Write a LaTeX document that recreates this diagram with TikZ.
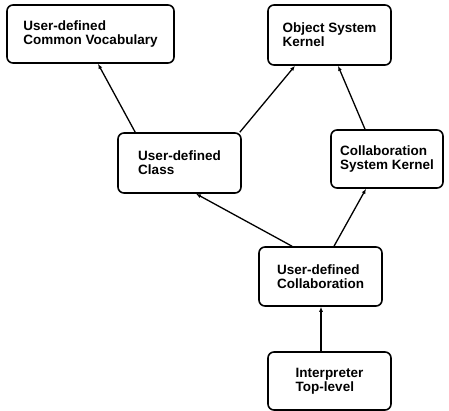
\documentclass[tikz,border=0pt]{standalone}
\usepackage{fontspec}
\newfontfamily\helv{Liberation Sans}
\usepackage{tikz}
\usetikzlibrary{arrows.meta,calc,positioning}
\tikzset{
  box/.style={rectangle,rounded corners=6pt,draw=black,line width=1.6pt,
    fill=white,align=left,inner sep=4pt,
    font=\helv\bfseries\fontsize{13.5}{14}\selectfont},
  arr/.style={-{Latex[length=5pt,width=4pt]},line width=1.3pt}
}

\begin{document}
\begin{tikzpicture}[x=1pt,y=-1pt]
  \useasboundingbox (0,0) rectangle (449,411);
  \node[box,minimum width=167pt,minimum height=58pt] (voc) at (90.5,34)
    {User-defined\\Common Vocabulary};
  \node[box,minimum width=123pt,minimum height=60pt] (obj) at (329.5,35)
    {Object System\\Kernel};
  \node[box,minimum width=123pt,minimum height=60pt] (cls) at (179.5,163)
    {User-defined\\Class};
  \node[box,minimum width=112pt,minimum height=58pt] (csk) at (387,159)
    {Collaboration\\System Kernel};
  \node[box,minimum width=123pt,minimum height=59pt] (ucol) at (320.5,276.5)
    {User-defined\\Collaboration};
  \node[box,minimum width=123pt,minimum height=58pt] (itp) at (329.5,381)
    {Interpreter\\Top-level};
  % inheritance links
  \draw[arr] ([xshift=18pt]cls.north west) -- ([xshift=7.5pt]voc.south);
  \draw[arr] ([xshift=-2pt]cls.north east) -- ([xshift=-34.5pt]obj.south);
  \draw[arr] ([xshift=-22pt]csk.north) -- ([xshift=8.5pt]obj.south);
  \draw[arr] ([xshift=-28.5pt]ucol.north) -- ([xshift=16.5pt]cls.south);
  \draw[arr] ([xshift=13.5pt]ucol.north) -- ([xshift=-21pt]csk.south);
  \draw[arr] ([xshift=-8.5pt]itp.north) -- ([xshift=0.5pt]ucol.south);
\end{tikzpicture}
\end{document}
